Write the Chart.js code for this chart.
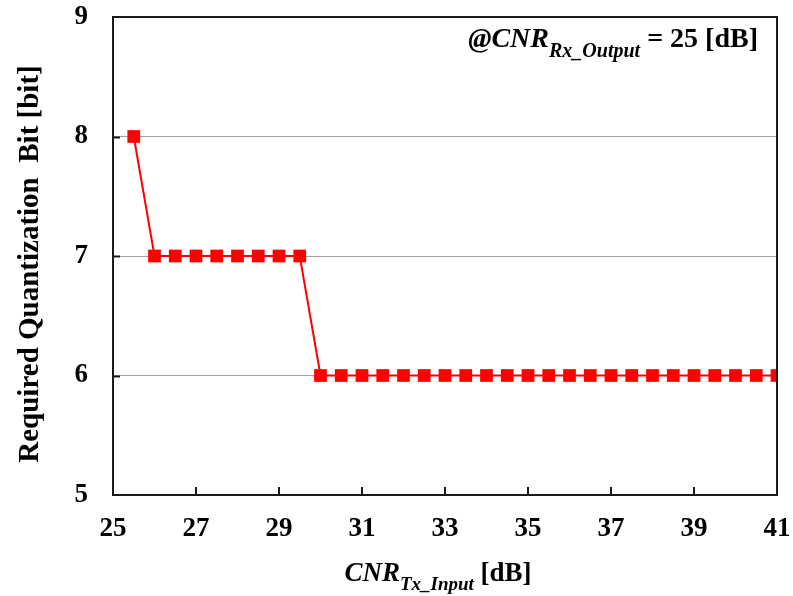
<!DOCTYPE html>
<html>
<head>
<meta charset="utf-8">
<script src="https://cdn.jsdelivr.net/npm/chart.js@4.4.1/dist/chart.umd.min.js"></script>
<style>
  html, body { margin: 0; padding: 0; background: #fff; }
  #quantChart { display: block; }
</style>
</head>
<body>
<canvas id="quantChart" width="793" height="596"></canvas>
<script>
// CNR_Tx_Input [dB] and required quantization bits
const cnrTx = [
  25.5,
  26, 26.5, 27, 27.5, 28, 28.5, 29, 29.5,
  30, 30.5, 31, 31.5, 32, 32.5, 33, 33.5, 34, 34.5, 35, 35.5,
  36, 36.5, 37, 37.5, 38, 38.5, 39, 39.5, 40, 40.5, 41,
];
const quantBits = [
  8,
  7, 7, 7, 7, 7, 7, 7, 7,
  6, 6, 6, 6, 6, 6, 6, 6, 6, 6, 6, 6,
  6, 6, 6, 6, 6, 6, 6, 6, 6, 6, 6,
];
const xTicks = [25, 27, 29, 31, 33, 35, 37, 39, 41];
const yTicks = [5, 6, 7, 8, 9];

const SERIF = "'Liberation Serif', 'Times New Roman', serif";

// draws a run of text pieces (main text + subscripts) one after another
function drawRich(ctx, parts, x, y, align) {
  // measure twice, the first measure of a fresh font can come back wrong
  let total = 0;
  for (let k = 0; k < 2; k++) {
    total = 0;
    parts.forEach((p) => {
      ctx.font = p.font;
      p.w = ctx.measureText(p.text).width;
      total += p.w;
    });
  }
  let cx = align === "right" ? x - total : align === "center" ? x - total / 2 : x;
  ctx.textAlign = "left";
  ctx.textBaseline = "alphabetic";
  parts.forEach((p) => {
    ctx.font = p.font;
    ctx.fillText(p.text, cx, y + (p.dy || 0));
    cx += ctx.measureText(p.text).width;
  });
}

const framePlugin = {
  id: "frame",
  afterDraw(chart) {
    const { ctx, chartArea: a, scales } = chart;
    ctx.save();
    // inner tick marks
    ctx.strokeStyle = "#1a1a1a";
    ctx.lineWidth = 2;
    ctx.beginPath();
    xTicks.slice(1, -1).forEach((v) => {
      const px = Math.round(scales.x.getPixelForValue(v));
      ctx.moveTo(px, a.bottom);
      ctx.lineTo(px, a.bottom - 8);
    });
    yTicks.slice(1, -1).forEach((v) => {
      const py = Math.round(scales.y.getPixelForValue(v)) + 0.5;
      ctx.moveTo(a.left, py);
      ctx.lineTo(a.left + 7, py);
    });
    ctx.stroke();
    // frame
    ctx.lineWidth = 2;
    ctx.strokeRect(a.left, a.top, a.right - a.left, a.bottom - a.top);

    ctx.fillStyle = "#000";

    // annotation
    drawRich(ctx, [
      { text: "@CNR", font: "italic bold 28px " + SERIF },
      { text: "Rx_Output", font: "italic bold 20px " + SERIF, dy: 10 },
      { text: " = 25 [dB]", font: "bold 28px " + SERIF },
    ], 758, 47, "right");

    // x axis title
    drawRich(ctx, [
      { text: "CNR", font: "italic bold 27px " + SERIF },
      { text: "Tx_Input", font: "italic bold 19px " + SERIF, dy: 9 },
      { text: " [dB]", font: "bold 27px " + SERIF },
    ], 438, 581, "center");

    // y axis title
    ctx.translate(31, 264);
    ctx.rotate(-Math.PI / 2);
    ctx.font = "bold 29px " + SERIF;
    ctx.textAlign = "center";
    ctx.textBaseline = "middle";
    ctx.fillText("Required Quantization  Bit [bit]", 0, 0);
    ctx.restore();
  },
};

const points = cnrTx.map((x, i) => ({ x: x, y: quantBits[i] }));

new Chart(document.getElementById("quantChart").getContext("2d"), {
  type: "line",
  data: {
    datasets: [
      {
        data: points,
        borderColor: "#ff0000",
        backgroundColor: "#ff0000",
        borderWidth: 2,
        pointStyle: "rect",
        pointRadius: 9,
        pointBorderWidth: 0,
        tension: 0,
      },
    ],
  },
  options: {
    responsive: false,
    animation: false,
    layout: { padding: { top: 17, right: 16, bottom: 0, left: 0 } },
    plugins: {
      legend: { display: false },
      tooltip: { enabled: false },
    },
    scales: {
      x: {
        type: "linear",
        min: 25,
        max: 41,
        afterFit: (s) => {
          s.height = 101;
          s.paddingLeft = 0;
          s.paddingRight = 0;
        },
        afterBuildTicks: (s) => { s.ticks = xTicks.map((v) => ({ value: v })); },
        grid: { display: false, drawTicks: false },
        border: { display: false },
        ticks: {
          padding: 18,
          color: "#000",
          font: { family: SERIF, size: 27, weight: "bold" },
        },
      },
      y: {
        min: 5,
        max: 9,
        afterFit: (s) => {
          s.width = 113;
          s.paddingTop = 0;
          s.paddingBottom = 0;
        },
        afterBuildTicks: (s) => { s.ticks = yTicks.map((v) => ({ value: v })); },
        grid: {
          drawTicks: false,
          lineWidth: 1,
          color: (c) => (c.tick && c.tick.value > 5 && c.tick.value < 9 ? "#a0a0a0" : "rgba(0,0,0,0)"),
        },
        border: { display: false },
        ticks: {
          padding: 25,
          color: "#000",
          font: { family: SERIF, size: 27, weight: "bold" },
        },
      },
    },
  },
  plugins: [framePlugin],
});
</script>
</body>
</html>
